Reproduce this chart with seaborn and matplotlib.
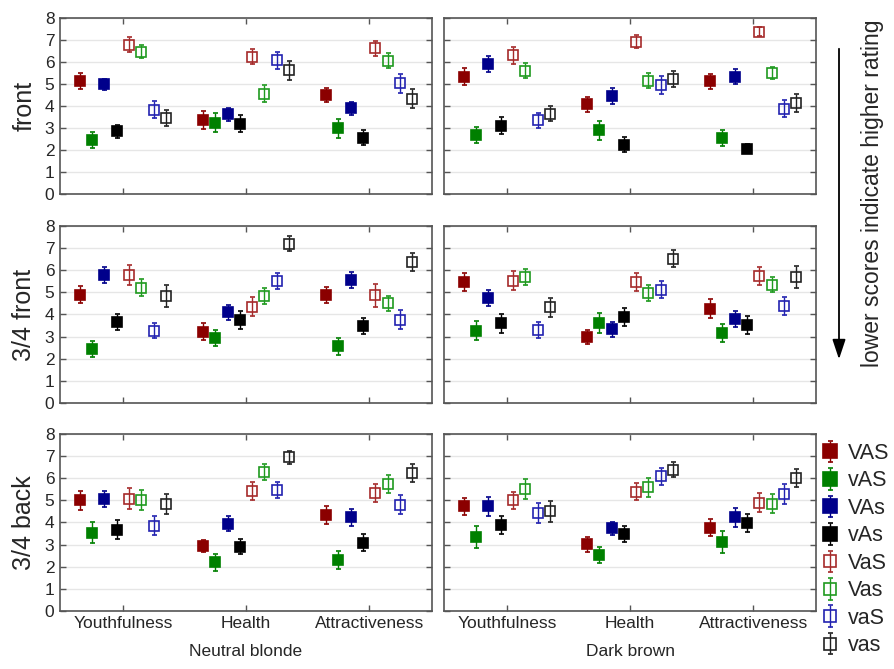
import numpy as np
import matplotlib
matplotlib.use("Agg")
import matplotlib.pyplot as plt
import seaborn as sns

# categories and series
categories = ["Youthfulness", "Health", "Attractiveness"]
series = ["VAS", "vAS", "VAs", "vAs", "VaS", "Vas", "vaS", "vas"]
series_colors = ["#8b0000", "#008000", "#00008b", "#000000",
                 "#a52a2a", "#1f9a1f", "#2222b0", "#222222"]
series_filled = [True, True, True, True, False, False, False, False]
row_labels = ["front", "3/4 front", "3/4 back"]
col_labels = ["Neutral blonde", "Dark brown"]

# means: one row per series, columns = Youthfulness, Health, Attractiveness
front_blonde = [[5.12, 3.36, 4.50], [2.44, 3.23, 2.97], [4.98, 3.62, 3.88], [2.85, 3.18, 2.56],
                [6.76, 6.23, 6.60], [6.45, 4.55, 6.05], [3.83, 6.06, 5.02], [3.45, 5.60, 4.32]]
front_blonde_err = [[0.36, 0.40, 0.32], [0.36, 0.42, 0.42], [0.25, 0.30, 0.31], [0.30, 0.39, 0.34],
                    [0.34, 0.36, 0.34], [0.29, 0.37, 0.34], [0.38, 0.38, 0.42], [0.38, 0.42, 0.42]]
front_brown = [[5.32, 4.06, 5.11], [2.67, 2.89, 2.53], [5.89, 4.45, 5.32], [3.10, 2.24, 2.06],
               [6.29, 6.91, 7.36], [5.59, 5.14, 5.47], [3.35, 4.95, 3.86], [3.64, 5.20, 4.12]]
front_brown_err = [[0.38, 0.34, 0.33], [0.38, 0.42, 0.36], [0.36, 0.36, 0.34], [0.40, 0.33, 0.20],
                   [0.38, 0.30, 0.20], [0.33, 0.33, 0.28], [0.34, 0.40, 0.38], [0.33, 0.36, 0.40]]

qfront_blonde = [[4.89, 3.21, 4.88], [2.45, 2.92, 2.55], [5.77, 4.09, 5.55], [3.64, 3.76, 3.48],
                 [5.79, 4.36, 4.86], [5.21, 4.85, 4.50], [3.27, 5.53, 3.76], [4.85, 7.21, 6.39]]
qfront_blonde_err = [[0.39, 0.38, 0.38], [0.36, 0.36, 0.38], [0.36, 0.34, 0.36], [0.36, 0.40, 0.38],
                     [0.45, 0.45, 0.50], [0.38, 0.36, 0.34], [0.36, 0.36, 0.42], [0.49, 0.33, 0.41]]
qfront_brown = [[5.48, 2.98, 4.26], [3.26, 3.60, 3.17], [4.73, 3.32, 3.80], [3.60, 3.89, 3.52],
                [5.52, 5.48, 5.74], [5.71, 4.98, 5.35], [3.30, 5.12, 4.39], [4.32, 6.53, 5.70]]
qfront_brown_err = [[0.40, 0.33, 0.43], [0.43, 0.45, 0.40], [0.36, 0.33, 0.36], [0.42, 0.42, 0.40],
                    [0.43, 0.42, 0.40], [0.36, 0.36, 0.34], [0.36, 0.38, 0.42], [0.43, 0.37, 0.50]]

qback_blonde = [[5.00, 2.93, 4.34], [3.54, 2.20, 2.29], [5.05, 3.95, 4.23], [3.68, 2.89, 3.08],
                [5.08, 5.44, 5.33], [5.02, 6.29, 5.74], [3.85, 5.47, 4.81], [4.84, 6.95, 6.23]]
qback_blonde_err = [[0.42, 0.27, 0.42], [0.48, 0.38, 0.41], [0.37, 0.33, 0.37], [0.45, 0.34, 0.38],
                    [0.47, 0.40, 0.42], [0.44, 0.35, 0.40], [0.44, 0.36, 0.43], [0.44, 0.30, 0.40]]
qback_brown = [[4.73, 3.02, 3.76], [3.34, 2.52, 3.11], [4.73, 3.73, 4.23], [3.89, 3.47, 3.98],
               [5.00, 5.39, 4.90], [5.51, 5.59, 4.84], [4.43, 6.09, 5.30], [4.50, 6.40, 6.02]]
qback_brown_err = [[0.40, 0.34, 0.38], [0.48, 0.37, 0.48], [0.43, 0.29, 0.44], [0.42, 0.35, 0.40],
                   [0.40, 0.38, 0.42], [0.44, 0.44, 0.43], [0.45, 0.38, 0.46], [0.47, 0.35, 0.42]]

panels = [[(front_blonde, front_blonde_err), (front_brown, front_brown_err)],
          [(qfront_blonde, qfront_blonde_err), (qfront_brown, qfront_brown_err)],
          [(qback_blonde, qback_blonde_err), (qback_brown, qback_brown_err)]]

sns.set_theme(style="whitegrid")
plt.rcParams['font.family'] = ['Liberation Sans', 'DejaVu Sans']

fig = plt.figure(figsize=(8.94, 6.69), dpi=100)

col_left = [60 / 894, 444 / 894]
col_w = 372 / 894
row_bottom = [1 - 194 / 669, 1 - 402.7 / 669, 1 - 610.7 / 669]
row_h = 176.5 / 669

offsets = np.linspace(-0.35, 0.35, 8)
x = np.arange(len(categories))
handles = []

for r in range(3):
    for c in range(2):
        ax = fig.add_axes([col_left[c], row_bottom[r], col_w, row_h])
        means, errs = panels[r][c]
        for i, name in enumerate(series):
            col = series_colors[i]
            h = ax.errorbar(x + offsets[i], means[i], yerr=errs[i], fmt='s',
                            color=col, ecolor=col, elinewidth=1.0, capsize=1.8, capthick=1.0,
                            markersize=7.5 if series_filled[i] else 7,
                            mfc=col if series_filled[i] else 'none',
                            mec=col, mew=1.2, label=name)
            if r == 2 and c == 1:
                handles.append(h)
        ax.set_xlim(-0.51, 2.51)
        ax.set_ylim(0, 8)
        ax.set_yticks(range(0, 9))
        ax.set_xticks(x)
        ax.grid(axis='x', visible=False)
        ax.grid(axis='y', color='#e6e6e6', linewidth=1.0)
        for s in ax.spines.values():
            s.set_color('#555555')
            s.set_linewidth(1.2)
        ax.tick_params(direction='in', length=4, width=1, color='#555555',
                       bottom=True, top=True, left=True, right=True,
                       labelsize=12.5, pad=4)
        if c == 0:
            ax.set_ylabel(row_labels[r], fontsize=18, labelpad=6)
        else:
            ax.set_yticklabels([])
        if r == 2:
            ax.set_xticklabels(categories, fontsize=12.5)
            ax.set_xlabel(col_labels[c], fontsize=12.5, labelpad=9)
        else:
            ax.set_xticklabels([])

fig.legend(handles, series, loc='upper left', bbox_to_anchor=(818 / 894, 1 - 443 / 669),
           frameon=False, fontsize=15.5, handlelength=1.1, handletextpad=0.3,
           labelspacing=0.3, borderpad=0, borderaxespad=0, markerscale=1.3)

fig.add_artist(matplotlib.patches.FancyArrowPatch(
    (839 / 894, 1 - 46 / 669), (839 / 894, 1 - 362 / 669), transform=fig.transFigure,
    arrowstyle='-|>,head_length=12,head_width=4', color='black', linewidth=1.3))
fig.text(872 / 894, 1 - 193 / 669, "lower scores indicate higher rating", rotation=90,
         ha='center', va='center', fontsize=16.5)

fig.savefig("out.png", dpi=100)
